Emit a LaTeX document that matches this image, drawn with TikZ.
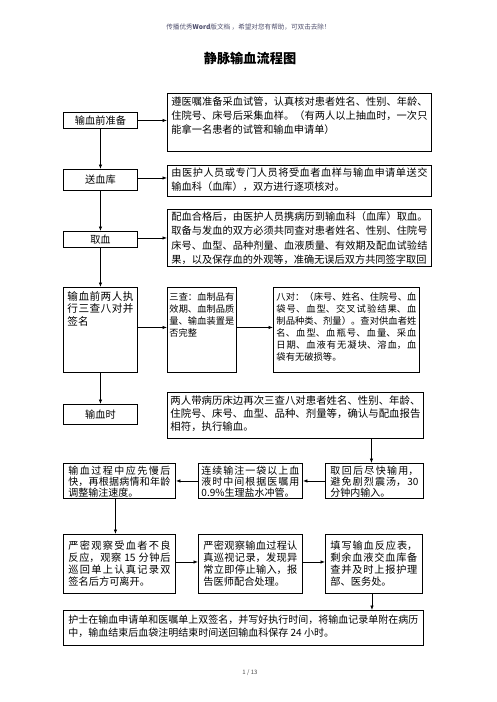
\documentclass[tikz,border=0pt]{standalone}
\usepackage{fontspec}
\setmainfont{Noto Sans CJK SC}
\usetikzlibrary{arrows.meta}
\XeTeXlinebreaklocale "zh"
\XeTeXlinebreakskip=0pt plus 1pt
\newcommand{\tb}[6]{\parbox[c][#2][t]{#1}{\fontsize{#3}{#4}\selectfont\vspace*{#5}#6}}
\definecolor{hdr}{RGB}{80,80,110}
\begin{document}
\begin{tikzpicture}[x=1pt,y=-1pt,
  box/.style={draw, line width=0.9pt, inner ysep=0pt, anchor=north west},
  cbox/.style={draw, line width=0.9pt, inner sep=0pt, anchor=north west, font=\fontsize{10.2}{12}\selectfont},
  arr/.style={line width=0.8pt, -{Latex[length=4.5pt,width=3.5pt]}}]
\fill[white] (0,0) rectangle (496,702);
\useasboundingbox (0,0) rectangle (496,702);
% header, title, page number
\node[text=hdr, font=\fontsize{6.6}{7}\selectfont] (hdr) at (248.5,27) {传播优秀\textbf{Word}版文档 ，希望对您有帮助，可双击去除！};
\node[font=\fontsize{13.2}{14}\selectfont\bfseries] (title) at (250,58) {静脉输血流程图};
\node[text=black!70, font=\fontsize{6}{7}\selectfont] (pg) at (250,673) {1 / 13};
% left column
\node[cbox, minimum width=74pt, minimum height=16pt] (b0) at (63,112) {输血前准备};
\node[cbox, minimum width=74pt, minimum height=21pt] (s0) at (63,169) {送血库};
\node[cbox, minimum width=74pt, minimum height=16pt] (q0) at (63,231) {取血};
\node[box, inner xsep=4pt] (p0) at (63,287) {\tb{66pt}{85pt}{10.6}{12.5}{4pt}{输血前两人执\linebreak 行三查八对并\linebreak 签名}};
\node[cbox, minimum width=74pt, minimum height=20pt] (t0) at (63,404) {输血时};
% right boxes
\node[box, inner xsep=4pt] (b1) at (167,93) {\tb{256pt}{58pt}{10.2}{14}{3pt}{遵医嘱准备采血试管，认真核对患者姓名、性别、年龄、\linebreak 住院号、床号后采集血样。（有两人以上抽血时，一次只\linebreak 能拿一名患者的试管和输血申请单）}};
\node[box, inner xsep=4pt] (b2) at (167,165) {\tb{256pt}{31pt}{10.2}{14}{2.5pt}{由医护人员或专门人员将受血者血样与输血申请单送交\linebreak 输血科（血库），双方进行逐项核对。}};
\node[box, inner xsep=4pt] (b3) at (167,209) {\tb{256pt}{57pt}{10.2}{14.3}{2.5pt}{配血合格后，由医护人员携病历到输血科（血库）取血。\linebreak 取备与发血的双方必须共同查对患者姓名、性别、住院号\linebreak 床号、血型、品种剂量、血液质量、有效期及配血试验结\linebreak 果，以及保存血的外观等，准确无误后双方共同签字取回}};
\node[box, inner xsep=2pt] (sc) at (167,287) {\tb{65pt}{85pt}{9.2}{12}{5.5pt}{三查：血制品有\linebreak 效期、血制品质\linebreak 量、输血装置是\linebreak 否完整}};
\node[box, inner xsep=3pt] (bd) at (273,287) {\tb{140pt}{85pt}{9.3}{12}{5.5pt}{八对：（床号、姓名、住院号、血\linebreak 袋号、血型、交叉试验结果、血\linebreak 制品种类、剂量）。查对供血者姓\linebreak 名、血型、血瓶号、血量、采血\linebreak 日期、血液有无凝块、溶血，血\linebreak 袋有无破损等。}};
\node[box, inner xsep=3pt] (t0r) at (167,392) {\tb{250pt}{46pt}{10.4}{13}{3.4pt}{两人带病历床边再次三查八对患者姓名、性别、年龄、\linebreak 住院号、床号、血型、品种、剂量等，确认与配血报告\linebreak 相符，执行输血。}};
% third row
\node[box, inner xsep=5pt] (r1) at (63,463) {\tb{102pt}{35pt}{10}{11}{2.5pt}{输血过程中应先慢后\linebreak 快，再根据病情和年龄\linebreak 调整输注速度。}};
\node[box, inner xsep=3pt] (r2) at (198,463) {\tb{98pt}{35pt}{10}{11}{2.5pt}{连续输注一袋以上血\linebreak 液时中间根据医嘱用\linebreak \mbox{0.9\%生理盐水冲管。}}};
\node[box, inner xsep=5pt] (r3) at (325,463) {\tb{88pt}{35pt}{10}{11}{2.5pt}{取回后尽快输用，\linebreak 避免剧烈震汤，30\linebreak 分钟内输入。}};
% fourth row
\node[box, inner xsep=5pt] (s1) at (63,534) {\tb{102pt}{59pt}{10.2}{12}{6pt}{严密观察受血者不良\linebreak 反应，观察 15 分钟后\linebreak 巡回单上认真记录双\linebreak 签名后方可离开。}};
\node[box, inner xsep=5pt] (s2) at (198,534) {\tb{94pt}{59pt}{10.2}{12}{6pt}{严密观察输血过程认\linebreak 真巡视记录，发现异\linebreak 常立即停止输入，报\linebreak 告医师配合处理。}};
\node[box, inner xsep=5pt] (s3) at (325,534) {\tb{87pt}{59pt}{10.2}{12}{6pt}{填写输血反应表，\linebreak 剩余血液交血库备\linebreak 查并及时上报护理\linebreak 部、医务处。}};
% bottom
\node[box, inner xsep=5pt] (bot) at (63,610) {\tb{350pt}{35pt}{10}{12.3}{5pt}{护士在输血申请单和医嘱单上双签名，并写好执行时间，将输血记录单附在病历\linebreak 中，输血结束后血袋注明结束时间送回输血科保存 24 小时。}};
% arrows
\draw[arr] (b0.east) -- (b0.east -| b1.west);
\draw[arr] (b0.south) -- (s0.north);
\draw[arr] ([yshift=2pt]s0.east) -- ([yshift=2pt]s0.east -| b2.west);
\draw[arr] (s0.south) -- (q0.north);
\draw[arr] ([yshift=1.5pt]q0.east) -- ([yshift=1.5pt]q0.east -| b3.west);
\draw[arr] (q0.south) -- (p0.north);
\draw[arr] ([yshift=2.5pt]p0.east) -- ([yshift=2.5pt]p0.east -| sc.west);
\draw[arr] ([yshift=2.5pt]sc.east) -- ([yshift=2.5pt]sc.east -| bd.west);
\draw[arr] (p0.south) -- (t0.north);
\draw[arr] ([xshift=-3pt]t0r.south -| r3.north) -- ([xshift=-3pt]r3.north);
\draw[arr] (r3.west) -- (r3.west -| r2.east);
\draw[arr] (r2.west) -- (r2.west -| r1.east);
\draw[arr] ([xshift=-4pt]r1.south) -- ([xshift=-4pt]s1.north);
\draw[arr] ([yshift=2pt]s1.east) -- ([yshift=2pt]s1.east -| s2.west);
\draw[arr] ([yshift=2pt]s2.east) -- ([yshift=2pt]s2.east -| s3.west);
\draw[arr] ([xshift=-2pt]s3.south) -- ([xshift=-2pt]s3.south |- bot.north);
\end{tikzpicture}
\end{document}
